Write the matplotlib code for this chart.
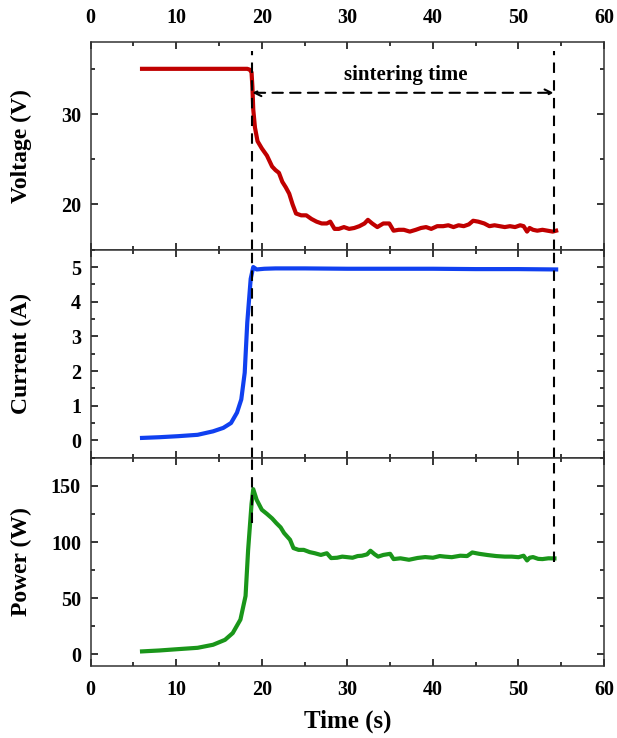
import matplotlib
matplotlib.use("Agg")
import matplotlib.pyplot as plt
from matplotlib.ticker import MultipleLocator

plt.rcParams["font.family"] = ["Liberation Serif", "DejaVu Serif"]
plt.rcParams["font.weight"] = "bold"

# voltage trace (s, V)
t_volt = [6.0, 8.0, 10.0, 12.0, 14.0, 16.0, 17.5, 18.3, 18.6, 18.8, 18.9, 19.0,
          19.2, 19.5, 20.0, 20.6, 21.2, 21.6, 22.0, 22.4, 22.8, 23.2, 23.6, 24.0,
          24.6, 25.2, 25.8, 26.4, 27.0, 27.6, 28.0, 28.5, 29.0, 29.6, 30.2, 30.8,
          31.4, 32.0, 32.4, 32.9, 33.5, 34.2, 34.9, 35.4, 36.0, 36.6, 37.3, 38.0,
          38.6, 39.2, 39.8, 40.5, 41.2, 41.8, 42.4, 43.0, 43.6, 44.2, 44.7, 45.3,
          46.0, 46.6, 47.2, 47.8, 48.4, 49.0, 49.6, 50.2, 50.6, 51.0, 51.3, 51.7,
          52.2, 52.8, 53.4, 54.0, 54.4]
volt = [35.0, 35.0, 35.0, 35.0, 35.0, 35.0, 35.0, 35.0, 34.9, 34.6, 33.0, 30.5,
        28.5, 27.0, 26.2, 25.4, 24.2, 23.8, 23.5, 22.5, 21.9, 21.2, 20.0, 19.0,
        18.8, 18.8, 18.4, 18.1, 17.9, 17.9, 18.1, 17.3, 17.3, 17.5, 17.3, 17.4,
        17.6, 17.9, 18.3, 17.9, 17.5, 17.9, 17.9, 17.1, 17.2, 17.2, 17.0, 17.2,
        17.4, 17.5, 17.3, 17.6, 17.6, 17.7, 17.5, 17.7, 17.6, 17.8, 18.2, 18.1,
        17.9, 17.6, 17.7, 17.6, 17.5, 17.6, 17.5, 17.7, 17.6, 17.0, 17.4, 17.2,
        17.1, 17.2, 17.1, 17.0, 17.1]

# current trace (s, A)
t_curr = [6.0, 8.0, 10.2, 12.5, 14.3, 15.5, 16.4, 17.1, 17.6, 18.0, 18.3, 18.7,
          19.0, 19.4, 20.3, 21.6, 25.0, 30.0, 35.0, 40.0, 45.0, 50.0, 54.4]
curr = [0.07, 0.09, 0.12, 0.16, 0.26, 0.36, 0.5, 0.8, 1.18, 1.95, 3.4, 4.66,
        5.0, 4.93, 4.95, 4.96, 4.96, 4.95, 4.95, 4.95, 4.94, 4.94, 4.93]

# power trace (s, W)
t_pow = [6.0, 8.0, 10.2, 12.5, 14.3, 15.7, 16.6, 17.5, 18.1, 18.4, 18.8, 19.0,
         19.4, 20.0, 20.6, 21.2, 21.7, 22.2, 22.6, 23.3, 23.7, 24.3, 24.9, 25.6,
         26.2, 26.9, 27.6, 28.1, 28.8, 29.4, 29.9, 30.6, 31.2, 31.7, 32.3, 32.7,
         33.2, 33.6, 34.2, 35.0, 35.4, 36.2, 37.2, 38.2, 39.1, 40.0, 40.8, 41.4,
         42.2, 43.2, 44.0, 44.6, 45.4, 46.4, 47.4, 48.4, 49.2, 50.0, 50.6, 51.0,
         51.3, 51.7, 52.3, 52.8, 53.5, 54.2]
power = [2.7, 3.5, 4.7, 5.9, 8.6, 13.0, 19.0, 31.0, 52.0, 93.0, 134.0, 147.0,
         137.5, 128.7, 125.0, 121.0, 116.8, 113.0, 108.0, 102.0, 94.6, 93.0, 93.0, 91.0,
         90.0, 88.5, 90.0, 85.7, 86.0, 87.0, 86.6, 86.0, 87.5, 87.8, 89.0, 92.2,
         89.0, 87.0, 88.5, 89.5, 84.8, 85.5, 84.2, 85.8, 86.6, 86.0, 87.5, 87.0,
         86.5, 87.8, 87.5, 90.7, 89.5, 88.4, 87.5, 87.0, 87.0, 86.5, 87.8, 83.6,
         86.0, 86.6, 85.0, 84.8, 85.5, 85.4]

sinter_start = 18.9
sinter_end = 54.1

fig, (ax1, ax2, ax3) = plt.subplots(3, 1, sharex=True, figsize=(6.17, 7.38), dpi=100)
fig.subplots_adjust(left=0.147, right=0.979, top=0.9435, bottom=0.098, hspace=0)

ax1.plot(t_volt, volt, color="#c00000", lw=3.0)
ax2.plot(t_curr, curr, color="#1040f0", lw=3.0)
ax3.plot(t_pow, power, color="#1a961a", lw=3.0)

ax1.set_ylim(15, 38)
ax2.set_ylim(-0.5, 5.5)
ax3.set_ylim(-10, 175)
ax3.set_xlim(0, 60)

ax1.yaxis.set_major_locator(MultipleLocator(10))
ax1.yaxis.set_minor_locator(MultipleLocator(5))
ax2.yaxis.set_major_locator(MultipleLocator(1))
ax2.yaxis.set_minor_locator(MultipleLocator(0.5))
ax3.yaxis.set_major_locator(MultipleLocator(50))
ax3.yaxis.set_minor_locator(MultipleLocator(25))
ax3.xaxis.set_major_locator(MultipleLocator(10))
ax3.xaxis.set_minor_locator(MultipleLocator(5))

for ax in (ax1, ax2, ax3):
    ax.tick_params(which="both", direction="in", top=True, right=True, width=1.1,
                   labelsize=14.5)
    ax.tick_params(which="major", length=5)
    ax.tick_params(which="minor", length=3)
    ax.tick_params(axis="x", which="major", pad=10)
    ax.tick_params(axis="y", which="major", pad=7)
    for s in ax.spines.values():
        s.set_linewidth(1.1)
        s.set_color("#333333")
ax1.tick_params(axis="x", which="both", labeltop=True, labelbottom=False)
ax2.tick_params(axis="x", labelbottom=False)

ax1.set_ylabel("Voltage (V)", fontsize=17, fontweight="bold")
ax2.set_ylabel("Current (A)", fontsize=17, fontweight="bold")
ax3.set_ylabel("Power (W)", fontsize=17, fontweight="bold")
ax3.set_xlabel("Time (s)", fontsize=18, fontweight="bold", labelpad=7)
ax1.yaxis.set_label_coords(-0.115, 0.5)
ax2.yaxis.set_label_coords(-0.115, 0.5)
ax3.yaxis.set_label_coords(-0.115, 0.5)

dash = dict(color="black", lw=1.5, dashes=(5, 3.5))
# vertical markers of the sintering window
ax1.axvline(sinter_start, ymin=0, ymax=0.955, **dash)
ax1.axvline(sinter_end, ymin=0, ymax=0.955, **dash)
ax2.axvline(sinter_start, **dash)
ax2.axvline(sinter_end, **dash)
ax3.axvline(sinter_start, ymin=(117 + 10) / 185, ymax=1, **dash)
ax3.axvline(sinter_end, ymin=(82 + 10) / 185, ymax=1, **dash)

ax1.annotate("", xy=(sinter_end, 32.35), xytext=(sinter_start, 32.35),
             arrowprops=dict(arrowstyle="<->", color="black", lw=1.5,
                             linestyle=(0, (5, 3.5)), shrinkA=0, shrinkB=0,
                             mutation_scale=12))
ax1.text((sinter_start + sinter_end) / 2 + 0.3, 34.3, "sintering time",
         ha="center", va="center", fontsize=15, fontweight="bold")

fig.savefig("out.png", dpi=100)
